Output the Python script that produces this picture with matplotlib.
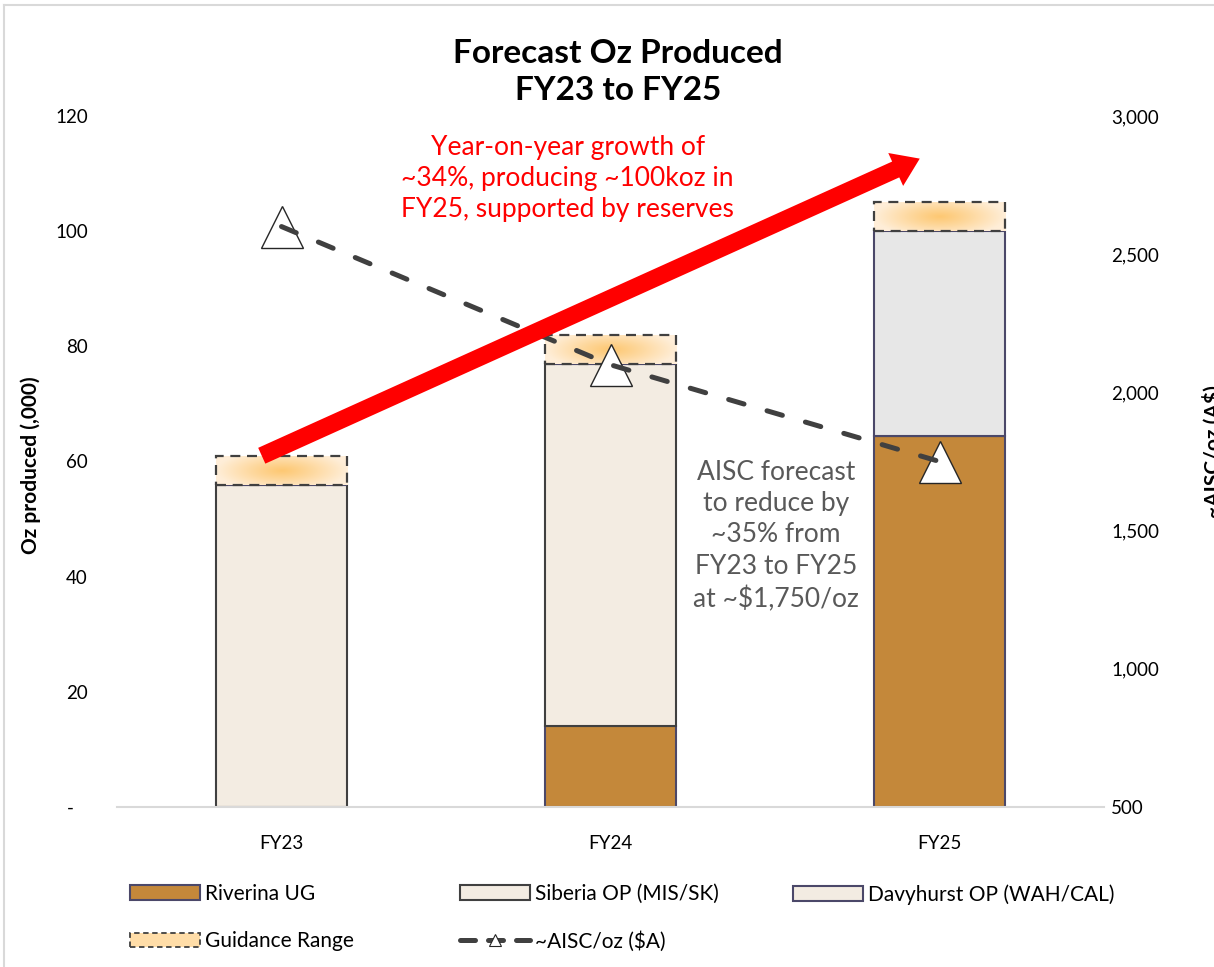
import numpy as np
import matplotlib
matplotlib.use("Agg")
import matplotlib.pyplot as plt
from matplotlib.patches import Rectangle, FancyArrowPatch, Patch
from matplotlib.lines import Line2D
from matplotlib.ticker import FuncFormatter

plt.rcParams['font.family'] = ['Lato', 'DejaVu Sans']

# ---------------- data ----------------
categories = ['FY23', 'FY24', 'FY25']
riverina = [0, 14, 64.4]
siberia = [56, 63, 0]
davyhurst = [0, 0, 35.6]
guidance_low = [56, 77, 100]
guidance_high = [61, 82, 105]
aisc = [2600, 2100, 1750]
left_ticks = [0, 20, 40, 60, 80, 100, 120]
right_ticks = [500, 1000, 1500, 2000, 2500, 3000]
arrow_start = (-0.06, 61.0)
arrow_end = (1.94, 112.6)

# ---------------- colours ----------------
c_riv = '#C4883A'
c_sib = '#F3ECE2'
c_dav = '#E7E7E7'
e_sib = '#404040'
e_purple = '#4B4869'

fig = plt.figure(figsize=(12.14, 9.67), dpi=100)
ax = fig.add_axes([117 / 1214, 1 - 807 / 967, (1104 - 117) / 1214, (807 - 116) / 967])
ax2 = ax.twinx()

x = np.arange(len(categories))
w = 0.4
bottoms = np.zeros(3)
ax.bar(x, riverina, w, color=c_riv, edgecolor=e_purple, linewidth=1.5, zorder=2)
bottoms += np.array(riverina)
ax.bar(x, siberia, w, bottom=bottoms, color=c_sib, edgecolor=e_sib, linewidth=1.5, zorder=2)
bottoms += np.array(siberia)
ax.bar(x, davyhurst, w, bottom=bottoms, color=c_dav, edgecolor=e_purple, linewidth=1.5, zorder=2)

# guidance range gradient boxes
ny, nx = 40, 120
yy, xx = np.mgrid[-1:1:ny * 1j, -1:1:nx * 1j]
r = np.clip(np.sqrt(xx ** 2 + (yy * 0.7) ** 2), 0, 1) ** 1.1
center = np.array([253, 200, 115]) / 255
edge = np.array([255, 238, 216]) / 255
img = center[None, None, :] * (1 - r[..., None]) + edge[None, None, :] * r[..., None]
for xi, lo, hi in zip(x, guidance_low, guidance_high):
    ax.imshow(img, extent=[xi - w / 2, xi + w / 2, lo, hi], aspect='auto',
              interpolation='bilinear', zorder=3)
    ax.add_patch(Rectangle((xi - w / 2, lo), w, hi - lo, fill=False, edgecolor='#404040',
                           linewidth=1.6, linestyle=(0, (4.5, 3)), zorder=4))

ax.set_xlim(-0.5, 2.5)
ax.set_ylim(0, 120)
ax.set_yticks(left_ticks)
ax.yaxis.set_major_formatter(FuncFormatter(lambda v, p: '-   ' if v == 0 else f'{int(v)}'))
ax.set_xticks(x)
ax.set_xticklabels(categories)
ax.tick_params(axis='both', length=0, labelsize=13.5, colors='#000000')
ax.tick_params(axis='x', pad=20)
ax.tick_params(axis='y', pad=21)
for s in ['top', 'left', 'right']:
    ax.spines[s].set_visible(False)
ax.spines['bottom'].set_color('#D9D9D9')
ax.spines['bottom'].set_linewidth(1.5)

# AISC line on the right axis
ax2.set_ylim(500, 3000)
ax2.set_yticks(right_ticks)
ax2.yaxis.set_major_formatter(FuncFormatter(lambda v, p: f'{int(v):,}'))
ax2.tick_params(axis='y', length=0, labelsize=13.5, pad=5)
for s in ax2.spines.values():
    s.set_visible(False)
ax2.plot(x, aisc, linestyle='none', marker='^', markersize=30, markerfacecolor='white',
         markeredgecolor='#262626', markeredgewidth=1.0, zorder=3)
ax2.plot(x, aisc, color='#404040', linewidth=3.6, linestyle=(0, (3.2, 4.8)),
         dash_capstyle='round', zorder=4)

# red arrow
arr = FancyArrowPatch(arrow_start, arrow_end, transform=ax.transData,
                      arrowstyle='simple,head_width=26,head_length=19,tail_width=12.5',
                      mutation_scale=1, color='#FF0000', linewidth=0, zorder=6,
                      shrinkA=0, shrinkB=0)
ax2.add_patch(arr)

# annotations
ax.text(0.87, 109.2, 'Year-on-year growth of\n~34%, producing ~100koz in\nFY25, supported by reserves',
        color='#FF0000', fontsize=19, ha='center', va='center', linespacing=1.3, zorder=7)
ax.text(1.503, 47.1, 'AISC forecast\nto reduce by\n~35% from\nFY23 to FY25\nat ~$1,750/oz',
        color='#595959', fontsize=19, ha='center', va='center', linespacing=1.32, zorder=7)

# title & axis labels
fig.text(618 / 1214, 1 - 72 / 967, 'Forecast Oz Produced\nFY23 to FY25', ha='center', va='center',
         fontsize=24, fontweight='bold', linespacing=1.32)
fig.text(31 / 1214, 1 - 465 / 967, 'Oz produced (,000)', rotation=90, ha='center', va='center',
         fontsize=15, fontweight='bold')
fig.text(1213 / 1214, 1 - 452 / 967, '~AISC/oz (A$)', rotation=90, ha='center', va='center',
         fontsize=15, fontweight='bold')

# chart border (light grey)
fig.add_artist(Line2D([3.5 / 1214, 3.5 / 1214], [0, 1 - 4.5 / 967], transform=fig.transFigure,
                      color='#D9D9D9', linewidth=1.5))
fig.add_artist(Line2D([3.5 / 1214, 1], [1 - 4.5 / 967, 1 - 4.5 / 967], transform=fig.transFigure,
                      color='#D9D9D9', linewidth=1.5))

# legend
h_riv = Patch(facecolor=c_riv, edgecolor=e_purple, linewidth=1.5)
h_sib = Patch(facecolor=c_sib, edgecolor=e_sib, linewidth=1.5)
h_dav = Patch(facecolor=c_sib, edgecolor=e_purple, linewidth=1.5)
h_gui = Patch(facecolor='#FFDDA8', edgecolor='#404040', linewidth=1.3, linestyle=(0, (3, 2)))
h_aisc = Line2D([0], [0], color='#404040', linewidth=3.6, linestyle=(0, (3.0, 2.6)),
                dash_capstyle='round', marker='^', markersize=9, markerfacecolor='white',
                markeredgecolor='#262626', markeredgewidth=0.8)

leg_kw = dict(loc='upper left', frameon=False, fontsize=15, borderpad=0, borderaxespad=0,
              handlelength=3.37, handleheight=0.7, handletextpad=0.25, labelspacing=1.3)
fig.legend([h_riv, h_gui], ['Riverina UG', 'Guidance Range'],
           bbox_to_anchor=(130 / 1214, 1 - 884 / 967), **leg_kw)
fig.legend([h_sib, h_aisc], ['Siberia OP (MIS/SK)', '~AISC/oz ($A)'],
           bbox_to_anchor=(460 / 1214, 1 - 884 / 967), **leg_kw)
fig.legend([h_dav], ['Davyhurst OP (WAH/CAL)'],
           bbox_to_anchor=(793 / 1214, 1 - 884 / 967), **leg_kw)

fig.savefig('out.png', dpi=100)
